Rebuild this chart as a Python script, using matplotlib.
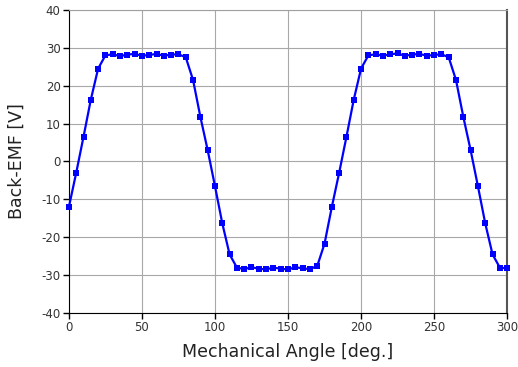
import matplotlib.pyplot as plt
import numpy as np

plt.rcParams['axes.unicode_minus'] = False

# mechanical angle [deg.] and back-EMF [V]
angle = np.arange(0, 301, 5)
back_emf = [-12.0, -3.0, 6.5, 16.3, 24.5, 28.0, 28.3, 27.8, 28.2, 28.4,
            27.9, 28.1, 28.4, 27.9, 28.2, 28.3, 27.5, 21.5, 11.8, 3.0,
            -6.5, -16.3, -24.5, -28.0, -28.4, -27.9, -28.3, -28.5, -28.0, -28.3,
            -28.5, -27.9, -28.2, -28.4, -27.6, -21.7, -12.0, -3.0, 6.5, 16.3,
            24.5, 28.0, 28.3, 27.9, 28.3, 28.5, 27.9, 28.2, 28.4, 27.9,
            28.1, 28.3, 27.5, 21.5, 11.8, 3.0, -6.5, -16.3, -24.5, -28.0,
            -28.2]
x_ticks = [0, 50, 100, 150, 200, 250, 300]
y_ticks = [-40, -30, -20, -10, 0, 10, 20, 30, 40]

fig = plt.figure(figsize=(5.18, 3.67), dpi=100)
ax = fig.add_axes([0.133, 0.147, 0.846, 0.826])

ax.plot(angle, back_emf, color='#0000ff', linewidth=1.6,
        marker='s', markersize=4.3, markeredgewidth=0, zorder=3, clip_on=False)

ax.set_xlim(0, 300)
ax.set_ylim(-40, 40)
ax.set_xticks(x_ticks)
ax.set_yticks(y_ticks)
ax.grid(True, color='#a8a8a8', linewidth=0.8)
ax.tick_params(direction='out', length=4, width=1, labelsize=8.5,
               labelcolor='#333333', pad=2)

ax.spines['top'].set_color('#a0a0a0')
ax.spines['right'].set_color('#555555')
ax.spines['right'].set_linewidth(1.5)

ax.set_xlabel('Mechanical Angle [deg.]', fontsize=12.5, color='#222222', labelpad=6)
ax.set_ylabel('Back-EMF [V]', fontsize=12.5, color='#222222', labelpad=11)

fig.savefig('out.png', dpi=100)
